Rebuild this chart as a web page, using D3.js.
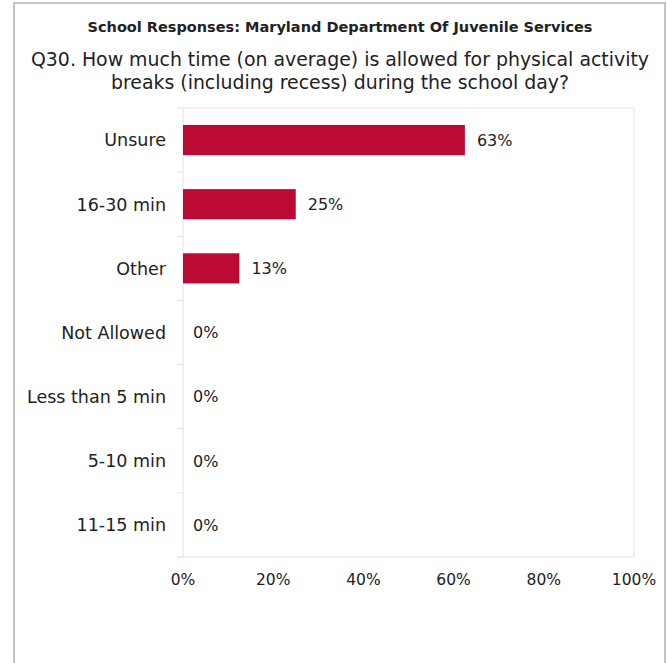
<!DOCTYPE html>
<html>
<head>
<meta charset="utf-8">
<script src="https://cdn.jsdelivr.net/npm/d3@7"></script>
<style>
  html, body { margin: 0; padding: 0; background: #fff; }
  svg { display: block; }
  text { font-family: "DejaVu Sans", sans-serif; fill: #222; }
</style>
</head>
<body>
<svg id="chart" width="667" height="663"></svg>
<script>
const title = "School Responses: Maryland Department Of Juvenile Services";
const subtitleLines = [
  "Q30. How much time (on average) is allowed for physical activity",
  "breaks (including recess) during the school day?"
];
const categories = ["Unsure", "16-30 min", "Other", "Not Allowed", "Less than 5 min", "5-10 min", "11-15 min"];
const values = [62.5, 25, 12.5, 0, 0, 0, 0];
const xTicks = [0, 20, 40, 60, 80, 100];

const svg = d3.select("#chart");
const W = 667, H = 663;

svg.append("rect").attr("x", 14).attr("y", 3).attr("width", 651).attr("height", H + 10)
  .attr("fill", "#fff").attr("stroke", "#c4c4c4").attr("stroke-width", 2);

const cx = 340;
svg.append("text").attr("x", cx).attr("y", 32).attr("text-anchor", "middle")
  .attr("font-size", 14.5).attr("font-weight", 700).attr("fill", "#111").text(title);

svg.selectAll("text.sub").data(subtitleLines).join("text").attr("class", "sub")
  .attr("x", cx).attr("y", (d, i) => 66 + i * 23).attr("text-anchor", "middle")
  .attr("font-size", 18.9).text(d => d);

const m = { left: 183, right: 634, top: 108, bottom: 557 };
const x = d3.scaleLinear().domain([0, 100]).range([m.left, m.right]);
const y = d3.scaleBand().domain(categories).range([m.top, m.bottom]).paddingInner(0.53).paddingOuter(0.265);
const yb = d3.scaleBand().domain(categories).range([m.top, m.bottom]);

const frame = "#e2e2e2";
svg.append("line").attr("x1", m.left).attr("x2", m.right).attr("y1", m.top).attr("y2", m.top).attr("stroke", frame);
svg.append("line").attr("x1", m.right).attr("x2", m.right).attr("y1", m.top).attr("y2", m.bottom).attr("stroke", frame);
svg.append("line").attr("x1", m.left - 6).attr("x2", m.right).attr("y1", m.bottom).attr("y2", m.bottom).attr("stroke", frame);
svg.append("line").attr("x1", m.left).attr("x2", m.left).attr("y1", m.top).attr("y2", m.bottom).attr("stroke", frame);
const boundaries = categories.map(c => yb(c)).concat([m.bottom]);
svg.selectAll("line.bt").data(boundaries).join("line").attr("class", "bt")
  .attr("x1", m.left - 6).attr("x2", m.left).attr("y1", d => d).attr("y2", d => d).attr("stroke", frame);

svg.selectAll("rect.bar").data(categories).join("rect").attr("class", "bar")
  .attr("x", x(0)).attr("y", c => y(c)).attr("height", y.bandwidth())
  .attr("width", (c, i) => x(values[i]) - x(0)).attr("fill", "#bd0a33");

svg.selectAll("text.val").data(categories).join("text").attr("class", "val")
  .attr("x", (c, i) => x(values[i]) + (values[i] > 0 ? 12 : 10))
  .attr("y", c => y(c) + y.bandwidth() / 2).attr("dy", "0.36em")
  .attr("font-size", 16).text((c, i) => Math.round(values[i]) + "%");

svg.selectAll("text.cat").data(categories).join("text").attr("class", "cat")
  .attr("x", 166).attr("y", c => y(c) + y.bandwidth() / 2).attr("dy", "0.36em")
  .attr("text-anchor", "end").attr("font-size", 17.5).text(c => c);

svg.selectAll("text.xt").data(xTicks).join("text").attr("class", "xt")
  .attr("x", d => x(d)).attr("y", 585).attr("text-anchor", "middle")
  .attr("font-size", 15.5).text(d => d + "%");
</script>
</body>
</html>
